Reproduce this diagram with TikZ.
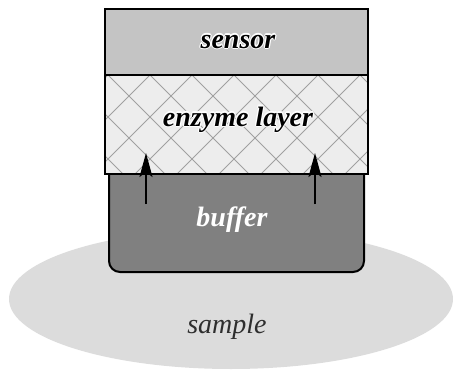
\documentclass[tikz,border=0pt]{standalone}
\usepackage{fontspec}
\setmainfont{Liberation Serif}
\usetikzlibrary{arrows.meta}
\definecolor{sensorgray}{HTML}{C4C4C4}
\definecolor{enzymegray}{HTML}{EDEDED}
\definecolor{buffergray}{HTML}{808080}
\definecolor{samplegray}{HTML}{DCDCDC}
\definecolor{hatchgray}{HTML}{A0A0A0}
\definecolor{sampletext}{HTML}{2E2E2E}
\newcommand{\halotext}[3]{%
  \foreach \dx/\dy in {1.1/0,-1.1/0,0/1.1,0/-1.1,0.8/0.8,-0.8/0.8,0.8/-0.8,-0.8/-0.8}{
    \node[lbl, text=white] at ([shift={(\dx,\dy)}]#1) {#2};
  }
  \node[lbl, text=black] (#3) at (#1) {#2};
}
\begin{document}
\begin{tikzpicture}[x=1pt,y=-1pt,
  lbl/.style={inner sep=0pt, anchor=base, font=\fontsize{28}{30}\selectfont\bfseries\itshape},
  box/.style={draw=black, line width=2pt},
  arr/.style={line width=2pt, -{Stealth[length=24pt,width=13pt,inset=5pt]}}]
\useasboundingbox (0,0) rectangle (453,370);
% sample
\fill[samplegray] (231,299) ellipse [x radius=222, y radius=70];
% buffer
\draw[box, fill=buffergray, rounded corners=11pt] (109,174) -- (109,272) -- (364,272) -- (364,174);
% enzyme layer
\fill[enzymegray] (105,75) rectangle (368,174);
\begin{scope}
  \clip (105,75) rectangle (368,174);
  \foreach \k in {-6,...,12}{
    \draw[hatchgray, line width=0.8pt] (108+42*\k,75) -- ++(160,160);
    \draw[hatchgray, line width=0.8pt] (108+42*\k,75) -- ++(-160,160);
  }
\end{scope}
\draw[box] (105,75) rectangle (368,174);
% sensor
\draw[box, fill=sensorgray] (105,9) rectangle (368,75);
% arrows
\coordinate (a1s) at (146,204);
\coordinate (a1e) at (146,153);
\coordinate (a2s) at (315,204);
\coordinate (a2e) at (315,153);
\draw[arr] (a1s) -- (a1e);
\draw[arr] (a2s) -- (a2e);
% labels
\coordinate (sensorpos) at (238,48);
\coordinate (enzymepos) at (238,126);
\halotext{sensorpos}{sensor}{sensorlbl}
\halotext{enzymepos}{enzyme layer}{enzymelbl}
\node[lbl, text=white] (bufferlbl) at (232,226) {buffer};
\node[inner sep=0pt, anchor=base, text=sampletext, font=\fontsize{28}{30}\selectfont\itshape] (samplelbl) at (227,333) {sample};
\end{tikzpicture}
\end{document}
